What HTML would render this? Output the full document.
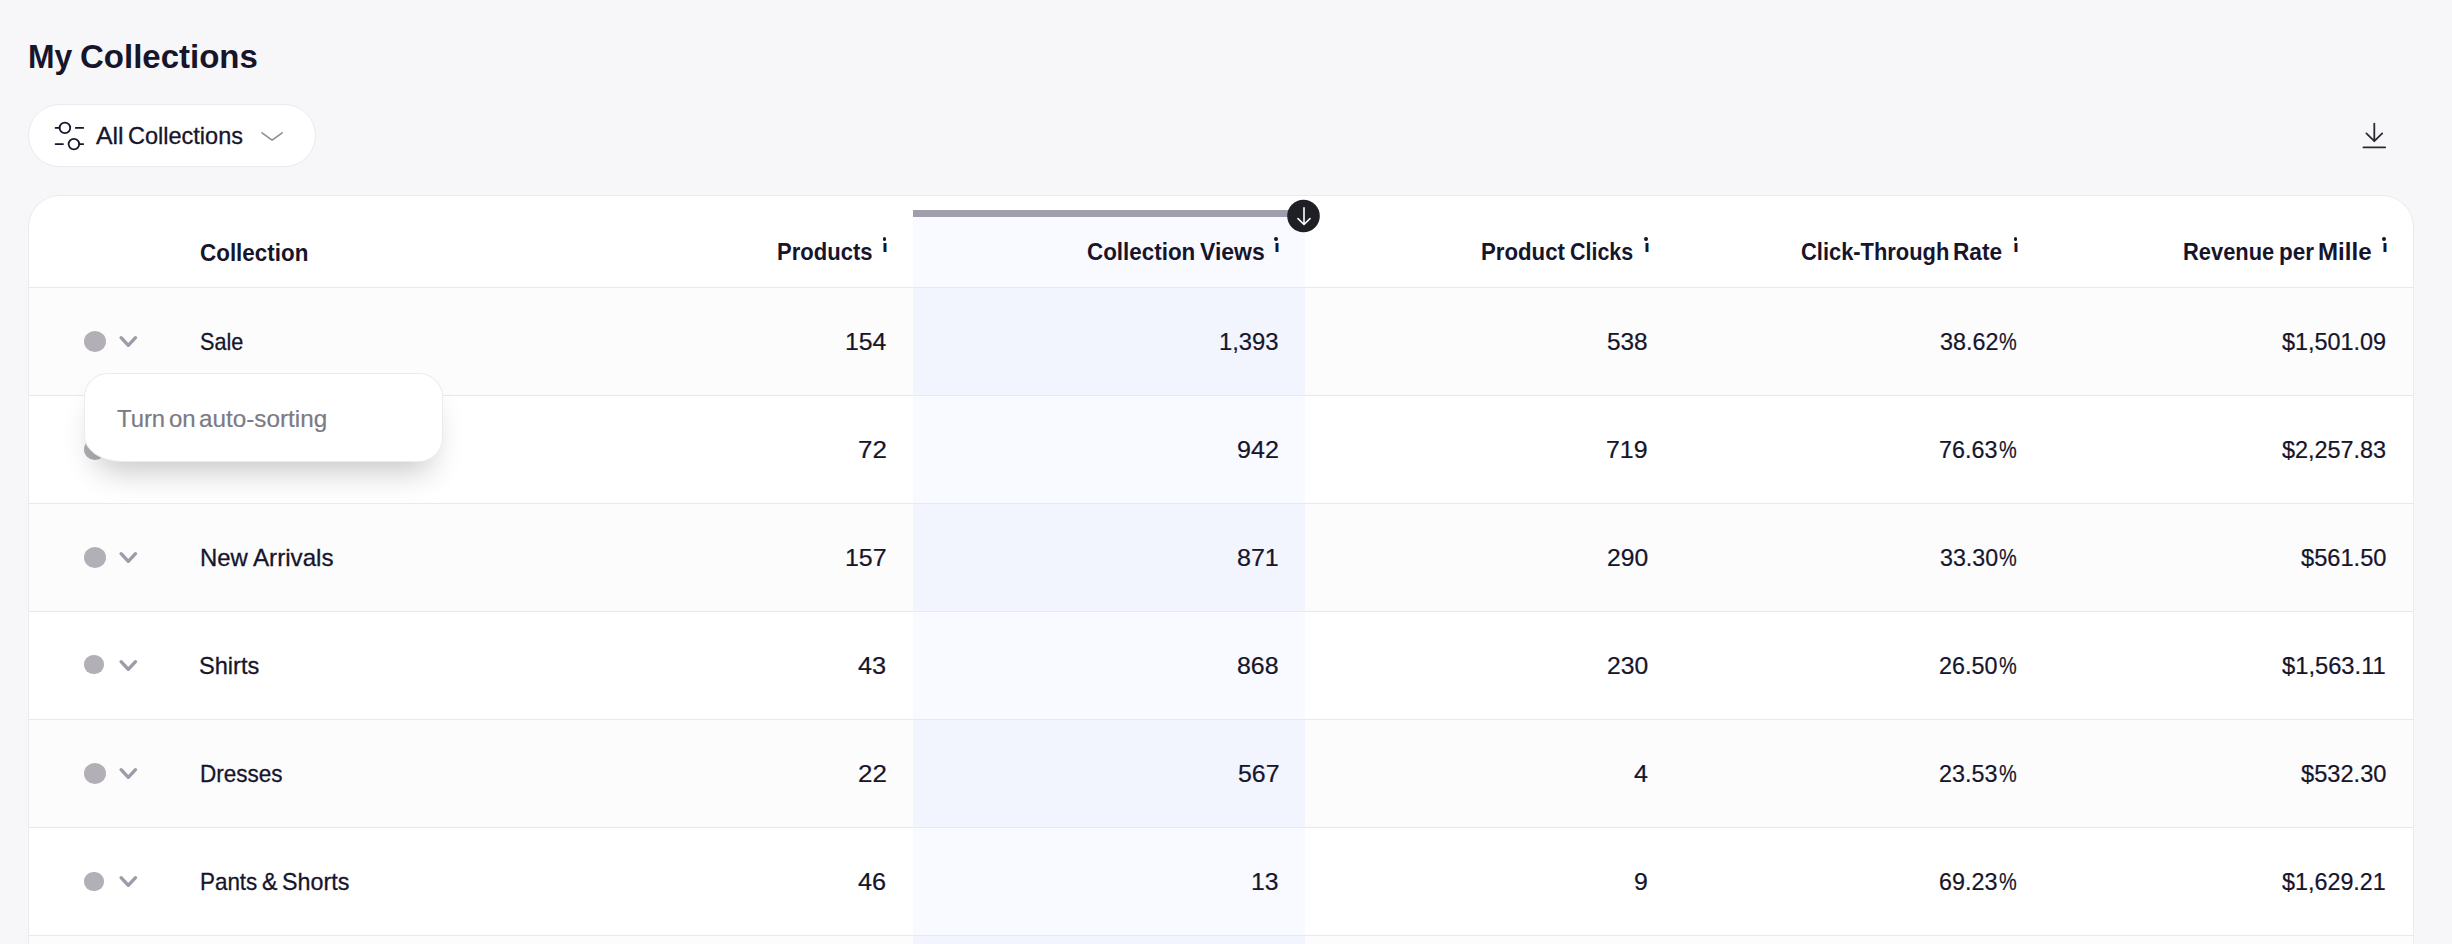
<!DOCTYPE html>
<html lang="en">
<head>
<meta charset="utf-8">
<title>My Collections</title>
<style>
*{box-sizing:border-box;margin:0;padding:0}
html,body{width:2452px;height:944px;overflow:hidden}
body{background:#f7f7f9;font-family:"Liberation Sans",sans-serif;color:#16152b;position:relative}
.t{position:absolute;left:0;white-space:nowrap;display:block}
.w{position:absolute;top:0;transform-origin:0 0;display:block}
.title{font-size:32px;line-height:32px;font-weight:700}
.ftxt,.name,.tip{font-size:24px;line-height:24px;font-weight:400;-webkit-text-stroke:.3px currentColor}
.th{font-size:24px;line-height:24px;font-weight:700}
.num{font-size:24px;line-height:24px;font-weight:400;-webkit-text-stroke:.3px currentColor}
.tip{color:#7b7a87;-webkit-text-stroke-width:.2px}
.num{-webkit-text-stroke-width:.22px}
.info{position:absolute;top:238px;width:6px;height:17px;display:block}
.info b{display:block;position:absolute;left:0;top:0;font-size:17px;line-height:17px;font-weight:700;transform-origin:0 0;transform:scaleX(1.25);clip-path:inset(4.5px 0 0 0)}
.info::before{content:"";position:absolute;left:.96px;top:-1.1px;width:3.8px;height:3.8px;border-radius:50%;background:#16152b}
.filter{position:absolute;left:28px;top:104px;width:288px;height:63px;border-radius:32px;background:#fff;border:1px solid #ebebee}
.card{position:absolute;left:28px;top:195px;width:2386px;height:800px;border-radius:32px 32px 0 0;background:#fff;border:1px solid #ebebee;border-bottom:0}
.row{position:absolute;left:29px;width:2384px;height:108px;border-bottom:1px solid #e9e9ec}
.row.alt{background:#fcfcfc}
.hline{position:absolute;left:29px;width:2384px;top:287px;height:1px;background:#e9e9ec}
.sc{position:absolute;left:913px;width:392px}
.bar{position:absolute;left:913px;top:210px;width:385px;height:7px;background:#a09eac}
.dot{position:absolute;border-radius:50%;background:#b2afb7}
svg{position:absolute;overflow:visible}
.tooltip{position:absolute;left:84px;top:373px;width:359px;height:89px;border-radius:24px;border-bottom-left-radius:38px 26px;background:#fff;border:1px solid #ececee;box-shadow:0 20px 32px -12px rgba(0,0,0,.24)}
</style>
</head>
<body>
<h1 class="t title" style="top:41px"><span class="w" style="left:27.56px;transform-origin:0 27.0px;transform:scale(0.9952,1.03)">My</span> <span class="w" style="left:79.71px;transform-origin:0 27.0px;transform:scale(1.0312,1.03)">Collections</span></h1>
<div class="filter"></div>
<svg width="30" height="30" style="left:54px;top:121px" viewBox="54 121 30 30" fill="none" stroke="#16152b" stroke-width="1.8" stroke-linecap="round">
<circle cx="64.9" cy="127.9" r="5.3"/><circle cx="73.9" cy="144.1" r="5.3"/>
<path d="M55.6 127.9H59.6M75.8 127.9H83.2M55.6 144.1H63M79.2 144.1H83.2"/></svg>
<span class="t ftxt" style="top:124px"><span class="w" style="left:96.05px;transform:scaleX(1.0360)">All</span> <span class="w" style="left:128.13px;transform:scaleX(0.9796)">Collections</span></span>
<svg width="24" height="12" style="left:260px;top:130px" viewBox="260 130 24 12" fill="none" stroke="#8e8d99" stroke-width="1.6" stroke-linecap="round" stroke-linejoin="round"><path d="M262 132.8L272.1 140.2L282.2 132.8"/></svg>
<svg width="30" height="30" style="left:2360px;top:120px" viewBox="2360 120 30 30" fill="none" stroke="#2a2a34" stroke-width="1.8" stroke-linecap="round" stroke-linejoin="round"><path d="M2374.3 123.6V141.2M2366.4 133.4L2374.3 141.2L2382.2 133.4M2363.4 147.3H2385.2"/></svg>
<div class="card"></div>
<div class="hline"></div>
<div class="row alt" style="top:288px"></div>
<div class="row" style="top:396px"></div>
<div class="row alt" style="top:504px"></div>
<div class="row" style="top:612px"></div>
<div class="row alt" style="top:720px"></div>
<div class="row" style="top:828px"></div>
<div class="row alt" style="top:936px"></div>
<div class="sc" style="top:217px;height:70px;background:#f9faff"></div>
<div class="sc" style="top:288px;height:107px;background:#f2f5fe"></div>
<div class="sc" style="top:396px;height:107px;background:#f9faff"></div>
<div class="sc" style="top:504px;height:107px;background:#f2f5fe"></div>
<div class="sc" style="top:612px;height:107px;background:#f9faff"></div>
<div class="sc" style="top:720px;height:107px;background:#f2f5fe"></div>
<div class="sc" style="top:828px;height:107px;background:#f9faff"></div>
<div class="sc" style="top:936px;height:107px;background:#f2f5fe"></div>
<div class="bar"></div>
<svg width="34" height="34" style="left:1286px;top:199px" viewBox="1286 199 34 34"><circle cx="1303.5" cy="216" r="16.3" fill="#1f2026"/><path d="M1304 207.8V224M1298 218.6L1304 224.5L1310 218.6" fill="none" stroke="#fff" stroke-width="1.6" stroke-linecap="round" stroke-linejoin="round"/></svg>
<span class="t th" style="top:241px"><span class="w" style="left:199.57px;transform:scaleX(0.9339)">Collection</span></span>
<span class="t th" style="top:240px"><span class="w" style="left:776.62px;transform:scaleX(0.9182)">Products</span></span>
<span class="t th" style="top:240px"><span class="w" style="left:1087.47px;transform:scaleX(0.9330)">Collection</span> <span class="w" style="left:1199.66px;transform:scaleX(0.9585)">Views</span></span>
<span class="t th" style="top:240px"><span class="w" style="left:1481.41px;transform:scaleX(0.9258)">Product</span> <span class="w" style="left:1570.21px;transform:scaleX(0.8931)">Clicks</span></span>
<span class="t th" style="top:240px"><span class="w" style="left:1800.79px;transform:scaleX(0.9117)">Click-Through</span> <span class="w" style="left:1953.48px;transform:scaleX(0.9447)">Rate</span></span>
<span class="t th" style="top:240px"><span class="w" style="left:2182.83px;transform:scaleX(0.9115)">Revenue</span> <span class="w" style="left:2278.69px;transform:scaleX(0.9380)">per</span> <span class="w" style="left:2318.09px;transform:scaleX(1.0039)">Mille</span></span>
<span class="info" style="left:881.64px"><b>i</b></span>
<span class="info" style="left:1273.54px"><b>i</b></span>
<span class="info" style="left:1643.54px"><b>i</b></span>
<span class="info" style="left:2012.74px"><b>i</b></span>
<span class="info" style="left:2381.54px"><b>i</b></span>
<div class="dot" style="left:83.9px;top:330.9px;width:22.1px;height:21.2px"></div>
<svg width="20" height="14" style="left:118px;top:334.5px" viewBox="118 -7 20 14" fill="none" stroke="#9d9ba8" stroke-width="3.4" stroke-linecap="round" stroke-linejoin="round"><path d="M121.1 -4.3L128.3 3.3L135.5 -4.3"/></svg>
<span class="t name" style="top:330px"><span class="w" style="left:199.62px;transform:scaleX(0.9005)">Sale</span></span>
<span class="t num" style="top:330px"><span class="w" style="left:845.34px;transform:scaleX(1.0320)">154</span></span>
<span class="t num" style="top:330px"><span class="w" style="left:1219.41px;transform:scaleX(0.9921)">1,393</span></span>
<span class="t num" style="top:330px"><span class="w" style="left:1607.13px;transform:scaleX(1.0158)">538</span></span>
<span class="t num" style="top:330px"><span class="w" style="left:1939.58px;transform:scaleX(0.9714)">38.62</span><span class="w" style="left:1998.93px;transform:scaleX(0.8304)">%</span></span>
<span class="t num" style="top:330px"><span class="w" style="left:2282.01px;transform:scaleX(0.9754)">$1,501.09</span></span>
<div class="dot" style="left:83.9px;top:438.9px;width:22.1px;height:21.2px"></div>
<svg width="20" height="14" style="left:118px;top:442.5px" viewBox="118 -7 20 14" fill="none" stroke="#9d9ba8" stroke-width="3.4" stroke-linecap="round" stroke-linejoin="round"><path d="M121.1 -4.3L128.3 3.3L135.5 -4.3"/></svg>
<span class="t num" style="top:438px"><span class="w" style="left:858.00px;transform:scaleX(1.0804)">72</span></span>
<span class="t num" style="top:438px"><span class="w" style="left:1237.44px;transform:scaleX(1.0453)">942</span></span>
<span class="t num" style="top:438px"><span class="w" style="left:1606.45px;transform:scaleX(1.0384)">719</span></span>
<span class="t num" style="top:438px"><span class="w" style="left:1939.34px;transform:scaleX(0.9714)">76.63</span><span class="w" style="left:1998.93px;transform:scaleX(0.8304)">%</span></span>
<span class="t num" style="top:438px"><span class="w" style="left:2282.01px;transform:scaleX(0.9754)">$2,257.83</span></span>
<div class="dot" style="left:83.9px;top:546.9px;width:22.1px;height:21.2px"></div>
<svg width="20" height="14" style="left:118px;top:550.5px" viewBox="118 -7 20 14" fill="none" stroke="#9d9ba8" stroke-width="3.4" stroke-linecap="round" stroke-linejoin="round"><path d="M121.1 -4.3L128.3 3.3L135.5 -4.3"/></svg>
<span class="t name" style="top:546px"><span class="w" style="left:199.76px;transform:scaleX(0.9957)">New</span> <span class="w" style="left:252.75px;transform:scaleX(1.0063)">Arrivals</span></span>
<span class="t num" style="top:546px"><span class="w" style="left:845.33px;transform:scaleX(1.0378)">157</span></span>
<span class="t num" style="top:546px"><span class="w" style="left:1237.11px;transform:scaleX(1.0437)">871</span></span>
<span class="t num" style="top:546px"><span class="w" style="left:1606.87px;transform:scaleX(1.0278)">290</span></span>
<span class="t num" style="top:546px"><span class="w" style="left:1939.58px;transform:scaleX(0.9672)">33.30</span><span class="w" style="left:1998.93px;transform:scaleX(0.8304)">%</span></span>
<span class="t num" style="top:546px"><span class="w" style="left:2300.70px;transform:scaleX(0.9848)">$561.50</span></span>
<div class="dot" style="left:83.9px;top:654.5px;width:20.3px;height:19.6px;border-radius:46%"></div>
<svg width="20" height="14" style="left:118px;top:658.5px" viewBox="118 -7 20 14" fill="none" stroke="#9d9ba8" stroke-width="3.4" stroke-linecap="round" stroke-linejoin="round"><path d="M121.1 -4.3L128.3 3.3L135.5 -4.3"/></svg>
<span class="t name" style="top:654px"><span class="w" style="left:199.42px;transform:scaleX(0.9823)">Shirts</span></span>
<span class="t num" style="top:654px"><span class="w" style="left:858.42px;transform:scaleX(1.0535)">43</span></span>
<span class="t num" style="top:654px"><span class="w" style="left:1237.11px;transform:scaleX(1.0368)">868</span></span>
<span class="t num" style="top:654px"><span class="w" style="left:1606.87px;transform:scaleX(1.0278)">230</span></span>
<span class="t num" style="top:654px"><span class="w" style="left:1939.34px;transform:scaleX(0.9714)">26.50</span><span class="w" style="left:1998.93px;transform:scaleX(0.8304)">%</span></span>
<span class="t num" style="top:654px"><span class="w" style="left:2282.00px;transform:scaleX(0.9884)">$1,563.11</span></span>
<div class="dot" style="left:83.9px;top:762.9px;width:22.1px;height:21.2px"></div>
<svg width="20" height="14" style="left:118px;top:766.5px" viewBox="118 -7 20 14" fill="none" stroke="#9d9ba8" stroke-width="3.4" stroke-linecap="round" stroke-linejoin="round"><path d="M121.1 -4.3L128.3 3.3L135.5 -4.3"/></svg>
<span class="t name" style="top:762px"><span class="w" style="left:199.67px;transform:scaleX(0.9388)">Dresses</span></span>
<span class="t num" style="top:762px"><span class="w" style="left:858.00px;transform:scaleX(1.0804)">22</span></span>
<span class="t num" style="top:762px"><span class="w" style="left:1237.71px;transform:scaleX(1.0384)">567</span></span>
<span class="t num" style="top:762px"><span class="w" style="left:1633.63px;transform:scaleX(1.0449)">4</span></span>
<span class="t num" style="top:762px"><span class="w" style="left:1939.34px;transform:scaleX(0.9714)">23.53</span><span class="w" style="left:1998.93px;transform:scaleX(0.8304)">%</span></span>
<span class="t num" style="top:762px"><span class="w" style="left:2300.70px;transform:scaleX(0.9848)">$532.30</span></span>
<div class="dot" style="left:83.9px;top:871.8px;width:20.3px;height:19.6px;border-radius:46%"></div>
<svg width="20" height="14" style="left:118px;top:874.5px" viewBox="118 -7 20 14" fill="none" stroke="#9d9ba8" stroke-width="3.4" stroke-linecap="round" stroke-linejoin="round"><path d="M121.1 -4.3L128.3 3.3L135.5 -4.3"/></svg>
<span class="t name" style="top:870px"><span class="w" style="left:199.88px;transform:scaleX(0.9333)">Pants</span> <span class="w" style="left:262.42px;transform:scaleX(0.9667)">&amp;</span> <span class="w" style="left:282.44px;transform:scaleX(0.9710)">Shorts</span></span>
<span class="t num" style="top:870px"><span class="w" style="left:858.42px;transform:scaleX(1.0535)">46</span></span>
<span class="t num" style="top:870px"><span class="w" style="left:1251.05px;transform:scaleX(1.0292)">13</span></span>
<span class="t num" style="top:870px"><span class="w" style="left:1634.25px;transform:scaleX(1.0364)">9</span></span>
<span class="t num" style="top:870px"><span class="w" style="left:1939.34px;transform:scaleX(0.9714)">69.23</span><span class="w" style="left:1998.93px;transform:scaleX(0.8304)">%</span></span>
<span class="t num" style="top:870px"><span class="w" style="left:2282.01px;transform:scaleX(0.9720)">$1,629.21</span></span>
<div class="tooltip"></div>
<span class="t tip" style="top:407px"><span class="w" style="left:116.65px;transform:scaleX(0.9914)">Turn</span> <span class="w" style="left:168.65px;transform:scaleX(0.9979)">on</span> <span class="w" style="left:199.24px;transform:scaleX(1.0109)">auto-sorting</span></span>
</body>
</html>
